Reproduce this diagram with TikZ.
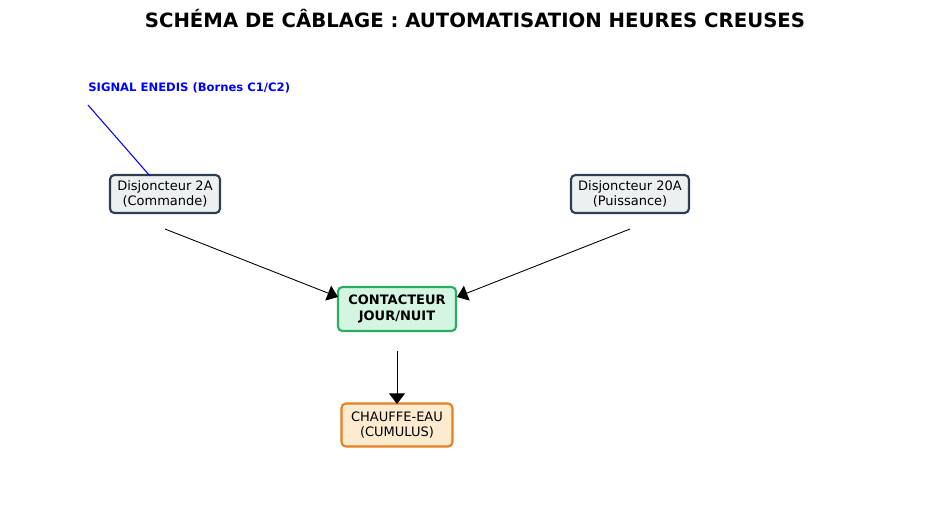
\documentclass[tikz,border=0pt]{standalone}
\usepackage{fontspec}
\setmainfont{DejaVu Sans}
\usetikzlibrary{positioning,arrows.meta}
\definecolor{slate}{HTML}{2C3E50}
\definecolor{cloud}{HTML}{ECF0F1}
\definecolor{leaf}{HTML}{27AE60}
\definecolor{mint}{HTML}{D5F5E3}
\definecolor{carrot}{HTML}{E67E22}
\definecolor{cream}{HTML}{FDEBD0}
\tikzset{
  box/.style={draw, line width=1.2pt, rounded corners=2.5pt, align=center, font=\fontsize{7.4}{8.6}\selectfont, inner sep=2pt},
  link/.style={-{Triangle[length=6pt,width=9pt]}, line width=0.5pt}
}
\begin{document}
\begin{tikzpicture}[x=0.02cm,y=-0.02cm]
\useasboundingbox (0,0) rectangle (950,524);
\node (title) at (475,19) {\fontsize{11.2}{12}\selectfont\bfseries SCHÉMA DE CÂBLAGE : AUTOMATISATION HEURES CREUSES};
\node (sig) [anchor=west, inner sep=0pt, text=blue, font=\fontsize{6.6}{8}\selectfont\bfseries] at (88,88) {SIGNAL ENEDIS (Bornes C1/C2)};

\node (d2) [box, draw=slate, fill=cloud, minimum width=110*0.02cm, minimum height=38*0.02cm] at (165,194) {Disjoncteur 2A\\(Commande)};
\node (d20) [box, draw=slate, fill=cloud, minimum width=118*0.02cm, minimum height=38*0.02cm] at (630,194) {Disjoncteur 20A\\(Puissance)};
\node (ct) [box, draw=leaf, fill=mint, minimum width=118*0.02cm, minimum height=44*0.02cm, font=\fontsize{7.4}{8.6}\selectfont\bfseries] at (397,309) {CONTACTEUR\\JOUR/NUIT};
\node (ce) [box, draw=carrot, fill=cream, minimum width=111*0.02cm, minimum height=43*0.02cm] at (397,425) {CHAUFFE-EAU\\(CUMULUS)};

\coordinate (s0) at (88,105);
\coordinate (s1) at (150,176);
\coordinate (a0) at (165,229);
\coordinate (a1) at (338,297);
\coordinate (b0) at (630,229);
\coordinate (b1) at (457,297);
\coordinate (c0) at (397,351);
\coordinate (c1) at (397,404);

\draw[blue, line width=0.6pt] (s0) -- (s1);
\draw[link] (a0) -- (a1);
\draw[link] (b0) -- (b1);
\draw[link] (c0) -- (c1);
\end{tikzpicture}
\end{document}
